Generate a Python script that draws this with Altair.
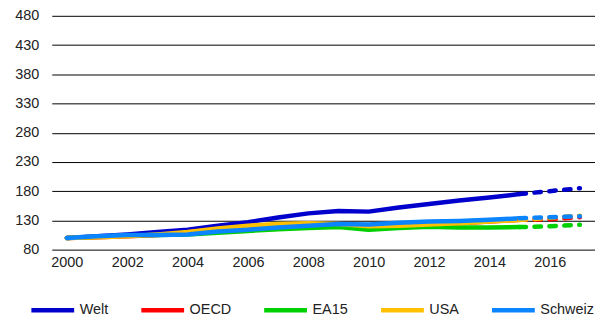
import altair as alt
import pandas as pd

years = list(range(2000, 2018))
series = ["Welt", "OECD", "EA15", "USA", "Schweiz"]
colors = ["#0000CC", "#FF0000", "#00D000", "#FFC000", "#0A84FF"]

welt    = [100, 103, 106, 110, 114, 121, 127, 135, 142, 146, 145, 152, 158, 164, 169, 175, 180, 185]
oecd    = [100, 101, 103, 105, 108, 112, 117, 121, 123, 123, 119, 121, 123, 125, 128, 131, 132, 135.5]
ea15    = [100, 102, 104, 105, 106, 109, 112, 115, 117, 118.5, 114, 117, 119, 118, 118, 118.5, 120, 122.5]
usa     = [100, 101, 103, 106, 110, 116, 121, 124, 125, 124, 120, 121, 123, 125, 128, 130.5, 134.5, 138]
schweiz = [100, 103, 105, 105, 106, 111, 114, 118, 121, 124, 123, 126, 128, 129, 131, 133.5, 135.5, 137]

last_actual = 2015
y_ticks = [80, 130, 180, 230, 280, 330, 380, 430, 480]
x_ticks = [2000, 2002, 2004, 2006, 2008, 2010, 2012, 2014, 2016]

rows = []
for name, vals in zip(series, [welt, oecd, ea15, usa, schweiz]):
    for yr, v in zip(years, vals):
        rows.append({"Jahr": yr, "Wert": v, "Serie": name})
df = pd.DataFrame(rows)

FONT = "Liberation Sans"

x_enc = alt.X("Jahr:Q",
              scale=alt.Scale(domain=[1999.5, 2017.5], nice=False, zero=False),
              axis=alt.Axis(values=x_ticks, format="d", title=None, grid=False,
                            ticks=False, domain=False, labelPadding=6,
                            labelFontSize=14.5, labelFont=FONT, labelColor="#222"))
y_enc = alt.Y("Wert:Q",
              scale=alt.Scale(domain=[80, 480], nice=False, zero=False),
              axis=alt.Axis(values=y_ticks, title=None, grid=True, gridColor="#000",
                            gridWidth=1, ticks=False, domain=False, labelPadding=13,
                            labelFontSize=14.5, labelFont=FONT, labelColor="#222"))

color_scale = alt.Scale(domain=series, range=colors)

solid = alt.Chart(df).transform_filter(alt.datum.Jahr <= last_actual).mark_line(
    strokeWidth=4.5, strokeCap="round", strokeJoin="round"
).encode(
    x=x_enc, y=y_enc,
    color=alt.Color("Serie:N", scale=color_scale, sort=series,
                    legend=alt.Legend(title=None, orient="none", direction="horizontal",
                                      legendX=-23, legendY=272, symbolType="stroke",
                                      symbolSize=1849, symbolStrokeWidth=4.5,
                                      labelOffset=3, columnPadding=23.5,
                                      labelFontSize=14.5, labelFont=FONT,
                                      labelColor="#222")),
    order=alt.Order("Jahr:Q"),
)

dashed = alt.Chart(df).transform_filter(alt.datum.Jahr >= last_actual).mark_line(
    strokeWidth=4.5, strokeCap="round", strokeDash=[6.5, 8.5]
).encode(
    x=x_enc, y=y_enc,
    color=alt.Color("Serie:N", scale=color_scale, sort=series, legend=None),
    order=alt.Order("Jahr:Q"),
)

chart = alt.layer(solid, dashed).properties(
    width=546, height=235,
    autosize=alt.AutoSizeParams(type="none"),
    padding={"left": 44, "top": 7, "right": 0, "bottom": 90},
).configure_view(stroke=None)

chart.save("out.html", embed_options={"renderer": "svg", "actions": False})
